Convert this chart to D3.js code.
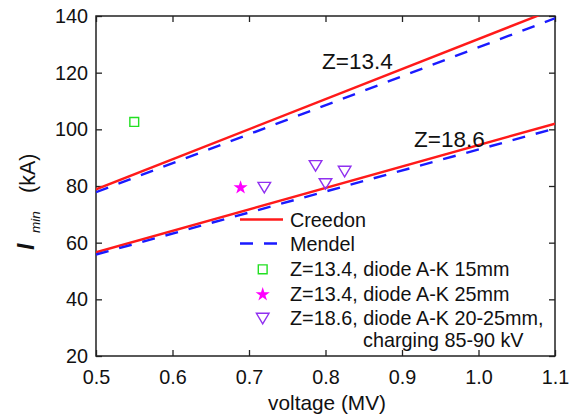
<!DOCTYPE html>
<html>
<head>
<meta charset="utf-8">
<script src="https://cdn.jsdelivr.net/npm/d3@7/dist/d3.min.js"></script>
<style>
  html, body { margin: 0; padding: 0; background: #fff; }
  svg { display: block; font-family: "Liberation Sans", Arial, Helvetica, sans-serif; }
</style>
</head>
<body>
<svg id="chart" width="574" height="420"></svg>
<script>
// Axis ticks
const xTicks = [0.5, 0.6, 0.7, 0.8, 0.9, 1.0, 1.1];
const yTicks = [20, 40, 60, 80, 100, 120, 140];

// Model curves: minimum current (kA) vs voltage (MV), endpoints of straight lines
const creedon134 = [[0.5, 78.8], [1.1, 142.5]];
const mendel134  = [[0.5, 77.8], [1.1, 139.2]];
const creedon186 = [[0.5, 56.6], [1.1, 102.0]];
const mendel186  = [[0.5, 55.8], [1.1, 100.3]];

// Measurements
const akGap15 = [[0.55, 102.6]];
const akGap25 = [[0.689, 79.8]];
const akGap2025 = [[0.72, 79.5], [0.787, 87.2], [0.80, 80.8], [0.825, 85.2]];

// Legend entries
const legendItems = [
  { kind: "line", color: "#ff1a1a", dash: null, label: "Creedon" },
  { kind: "line", color: "#1a1aff", dash: "13,11", label: "Mendel" },
  { kind: "square", color: "#22e022", label: "Z=13.4, diode A-K 15mm" },
  { kind: "star", color: "#ff00ff", label: "Z=13.4, diode A-K 25mm" },
  { kind: "tri", color: "#9030f0", label: "Z=18.6, diode A-K 20-25mm,", label2: "charging 85-90 kV" }
];

const svg = d3.select("#chart");
const L = 96, R = 555, T = 16, B = 356;

const x = d3.scaleLinear().domain([0.5, 1.1]).range([L, R]);
const y = d3.scaleLinear().domain([20, 140]).range([B, T]);

svg.append("defs").append("clipPath").attr("id", "plotClip")
  .append("rect").attr("x", L).attr("y", T).attr("width", R - L).attr("height", B - T);

const tickLen = 6;
const fmt = d3.format(".1f");

// Bottom axis with labels, ticks pointing inward
const gx = svg.append("g").attr("transform", `translate(0,${B})`)
  .call(d3.axisBottom(x).tickValues(xTicks).tickFormat(fmt).tickSize(-tickLen).tickPadding(14));
// Left axis
const gy = svg.append("g").attr("transform", `translate(${L},0)`)
  .call(d3.axisLeft(y).tickValues(yTicks).tickSize(-tickLen).tickPadding(8));
// Top and right axes: ticks only
const gt = svg.append("g").attr("transform", `translate(0,${T})`)
  .call(d3.axisTop(x).tickValues(xTicks).tickFormat("").tickSize(-tickLen));
const gr = svg.append("g").attr("transform", `translate(${R},0)`)
  .call(d3.axisRight(y).tickValues(yTicks).tickFormat("").tickSize(-tickLen));

[gx, gy, gt, gr].forEach(g => {
  g.select(".domain").remove();
  g.selectAll(".tick line").attr("stroke", "#222").attr("stroke-width", 1.3);
  g.selectAll(".tick text").attr("fill", "#111").style("font-size", "19.8px")
    .style("font-family", "'Liberation Sans', Arial, sans-serif");
});

// Frame
svg.append("rect").attr("x", L).attr("y", T).attr("width", R - L).attr("height", B - T)
  .attr("fill", "none").attr("stroke", "#222").attr("stroke-width", 1.5);

// Model lines
const line = d3.line().x(d => x(d[0])).y(d => y(d[1]));
const plot = svg.append("g").attr("clip-path", "url(#plotClip)");
const curves = [
  { data: creedon134, color: "#ff1a1a", dash: null },
  { data: mendel134,  color: "#1a1aff", dash: "13,11" },
  { data: creedon186, color: "#ff1a1a", dash: null },
  { data: mendel186,  color: "#1a1aff", dash: "13,11" }
];
curves.forEach(c => {
  plot.append("path").datum(c.data).attr("d", line)
    .attr("fill", "none").attr("stroke", c.color).attr("stroke-width", 2.4)
    .attr("stroke-dasharray", c.dash);
});

// Marker shapes
const triPath = "M-6.3,-5L6.3,-5L0,5.5Z";
const starPath = d3.symbol().type(d3.symbolStar).size(62)();
const sqPath = "M-4.4,-4.4H4.4V4.4H-4.4Z";

function drawMarker(g, kind, color, px, py) {
  if (kind === "square") {
    g.append("path").attr("d", sqPath).attr("transform", `translate(${px},${py})`)
      .attr("fill", "none").attr("stroke", color).attr("stroke-width", 1.4);
  } else if (kind === "star") {
    g.append("path").attr("d", starPath).attr("transform", `translate(${px},${py + 1})`)
      .attr("fill", color);
  } else if (kind === "tri") {
    g.append("path").attr("d", triPath).attr("transform", `translate(${px},${py})`)
      .attr("fill", "none").attr("stroke", color).attr("stroke-width", 1.4);
  }
}

const pts = svg.append("g");
akGap15.forEach(d => drawMarker(pts, "square", "#22e022", x(d[0]), y(d[1])));
akGap25.forEach(d => drawMarker(pts, "star", "#ff00ff", x(d[0]), y(d[1])));
akGap2025.forEach(d => drawMarker(pts, "tri", "#9030f0", x(d[0]), y(d[1])));

// Impedance annotations
svg.append("text").attr("x", 322).attr("y", 69).text("Z=13.4")
  .style("font-size", "22.5px").attr("fill", "#111");
svg.append("text").attr("x", 414).attr("y", 147).text("Z=18.6")
  .style("font-size", "22.5px").attr("fill", "#111");

// Legend
const lg = svg.append("g");
const rowY = [219.5, 243.5, 269.3, 293.5, 318.3];
legendItems.forEach((it, i) => {
  const cy = rowY[i];
  if (it.kind === "line") {
    lg.append("line").attr("x1", 240).attr("x2", 283).attr("y1", cy).attr("y2", cy)
      .attr("stroke", it.color).attr("stroke-width", 2.4).attr("stroke-dasharray", it.dash);
  } else {
    drawMarker(lg, it.kind, it.color, 262.7, cy);
  }
  lg.append("text").attr("x", 290).attr("y", cy + 7).text(it.label)
    .style("font-size", "19.8px").attr("fill", "#111");
  if (it.label2) {
    lg.append("text").attr("x", 363).attr("y", cy + 28.5).text(it.label2)
      .style("font-size", "19.8px").attr("fill", "#111");
  }
});

// Axis titles
svg.append("text").attr("x", 327).attr("y", 410).attr("text-anchor", "middle")
  .text("voltage (MV)").style("font-size", "20.8px").attr("fill", "#111");

svg.append("text").attr("transform", "translate(34,250) rotate(-90)")
  .text("I").style("font-size", "23px").style("font-weight", "bold").style("font-style", "italic")
  .attr("fill", "#111");
svg.append("text").attr("transform", "translate(40,233) rotate(-90)")
  .text("min").style("font-size", "13.5px").style("font-style", "italic").attr("fill", "#111");
svg.append("text").attr("transform", "translate(35,193) rotate(-90)")
  .text("(kA)").style("font-size", "21.5px").attr("fill", "#111");
</script>
</body>
</html>
